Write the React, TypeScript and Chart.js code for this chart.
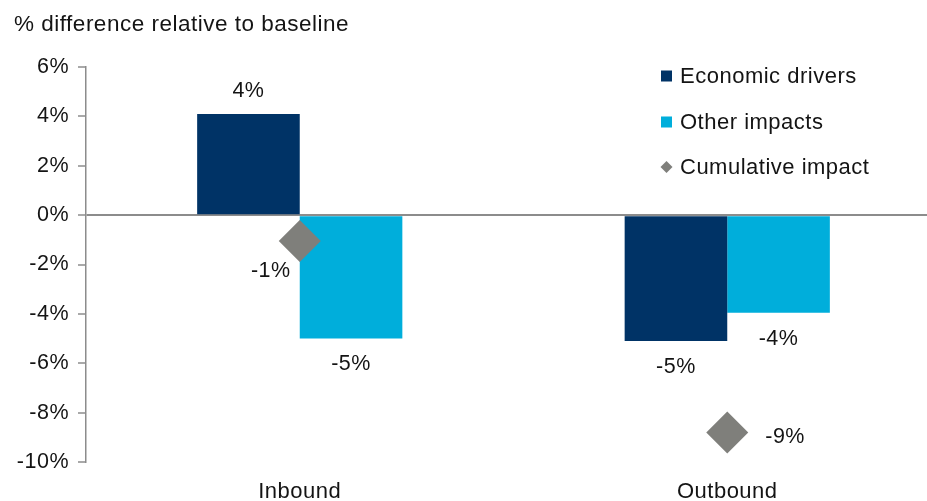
import React, { useEffect, useRef } from "react";
import { Chart, registerables } from "chart.js";

Chart.register(...registerables);

const categories = ["Inbound", "Outbound"];
const economicDrivers = [4.1, -5.1];
const otherImpacts = [-5.0, -3.95];
const cumulativeImpact = [-1.05, -8.8];
const yMin = -10;
const yMax = 6;
const yStep = 2;
const titleText = "% difference relative to baseline";
const seriesNames = ["Economic drivers", "Other impacts", "Cumulative impact"];

const COLORS = {
  econ: "#003366",
  other: "#00AEDB",
  cum: "#7F7F7B",
  axis: "#8C8C8C",
  text: "#141414",
};
const FONT = "'Liberation Sans', Arial, sans-serif";

const cumLabelPlacement = [
  { dx: -29, dy: 30, align: "center" as CanvasTextAlign },
  { dx: 38, dy: 5, align: "left" as CanvasTextAlign },
];

const fmt = (v: number) => `${Math.round(v)}%`;

const spacingPlugin = {
  id: "spacing",
  beforeDraw(chart: any) {
    try {
      (chart.ctx as any).letterSpacing = "0.5px";
    } catch (e) {}
  },
};

const overlayPlugin = {
  id: "overlay",
  afterDatasetsDraw(chart: any) {
    const ctx = chart.ctx as CanvasRenderingContext2D;
    ctx.save();
    ctx.fillStyle = COLORS.text;
    ctx.font = `21.5px ${FONT}`;
    ctx.textBaseline = "middle";
    // bar labels
    [0, 1].forEach((di) => {
      const meta = chart.getDatasetMeta(di);
      const vals = chart.data.datasets[di].data as number[];
      meta.data.forEach((el: any, i: number) => {
        const v = vals[i];
        ctx.textAlign = "center";
        const y = v >= 0 ? el.y - 23 : el.y + 26;
        ctx.fillText(fmt(v), el.x, y);
      });
    });
    // cumulative labels
    const cm = chart.getDatasetMeta(2);
    cm.data.forEach((el: any, i: number) => {
      const p = cumLabelPlacement[i];
      ctx.textAlign = p.align;
      ctx.fillText(fmt(cumulativeImpact[i]), el.x + p.dx, el.y + p.dy);
    });

    // title
    ctx.textAlign = "left";
    ctx.font = `22.5px ${FONT}`;
    ctx.fillText(titleText, 14, 25);

    // legend
    ctx.font = `22px ${FONT}`;
    const lx = 661;
    const rows = [76, 122, 167];
    ctx.fillStyle = COLORS.econ;
    ctx.fillRect(lx, rows[0] - 5.5, 11, 11);
    ctx.fillStyle = COLORS.other;
    ctx.fillRect(lx, rows[1] - 5.5, 11, 11);
    ctx.fillStyle = COLORS.cum;
    ctx.beginPath();
    ctx.moveTo(lx + 5.5, rows[2] - 6);
    ctx.lineTo(lx + 11.5, rows[2]);
    ctx.lineTo(lx + 5.5, rows[2] + 6);
    ctx.lineTo(lx - 0.5, rows[2]);
    ctx.closePath();
    ctx.fill();
    ctx.fillStyle = COLORS.text;
    seriesNames.forEach((n, i) => ctx.fillText(n, lx + 19, rows[i] + 1));
    ctx.restore();
  },
};

export default function App() {
  const ref = useRef<HTMLCanvasElement>(null);
  useEffect(() => {
    if (!ref.current) return;
    const chart = new Chart(ref.current, {
      type: "bar",
      data: {
        labels: categories,
        datasets: [
          {
            type: "bar",
            label: seriesNames[0],
            data: economicDrivers,
            backgroundColor: COLORS.econ,
            categoryPercentage: 0.48,
            barPercentage: 1,
            order: 1,
          },
          {
            type: "bar",
            label: seriesNames[1],
            data: otherImpacts,
            backgroundColor: COLORS.other,
            categoryPercentage: 0.48,
            barPercentage: 1,
            order: 1,
          },
          {
            type: "line",
            label: seriesNames[2],
            data: cumulativeImpact,
            showLine: false,
            pointStyle: "rectRot",
            pointRadius: 21,
            pointHoverRadius: 21,
            pointBackgroundColor: COLORS.cum,
            pointBorderColor: COLORS.cum,
            pointBorderWidth: 0,
            backgroundColor: COLORS.cum,
            borderColor: COLORS.cum,
            order: 0,
          },
        ],
      } as any,
      options: {
        responsive: false,
        animation: false,
        devicePixelRatio: 1,
        layout: { padding: { top: 67, right: 10, bottom: 0, left: 0 } },
        plugins: {
          legend: { display: false },
          tooltip: { enabled: false },
          title: { display: false },
        },
        scales: {
          x: {
            grid: { display: false, drawTicks: false },
            border: { display: false },
            ticks: {
              color: COLORS.text,
              font: { family: FONT, size: 22 },
              padding: 17,
            },
            afterFit: (s: any) => {
              s.height = 58;
            },
          },
          y: {
            min: yMin,
            max: yMax,
            ticks: {
              stepSize: yStep,
              color: COLORS.text,
              font: { family: FONT, size: 21.5 },
              padding: 9,
              callback: (v: any) => `${v}%`,
            },
            grid: {
              drawOnChartArea: true,
              drawTicks: true,
              tickLength: 8,
              tickColor: COLORS.axis,
              lineWidth: 2,
              tickWidth: 1.5,
              color: (c: any) =>
                c.tick && c.tick.value === 0 ? COLORS.axis : "rgba(0,0,0,0)",
            },
            border: { display: true, color: COLORS.axis, width: 1.5 },
            afterFit: (s: any) => {
              s.width = 86;
            },
          },
        },
      },
      plugins: [spacingPlugin, overlayPlugin],
    });
    return () => chart.destroy();
  }, []);
  return (
    <div
      style={{
        position: "fixed",
        left: 0,
        top: 0,
        width: 927,
        height: 501,
        overflow: "hidden",
        background: "#fff",
      }}
    >
      <canvas ref={ref} width={962} height={520} style={{ display: "block" }} />
    </div>
  );
}
